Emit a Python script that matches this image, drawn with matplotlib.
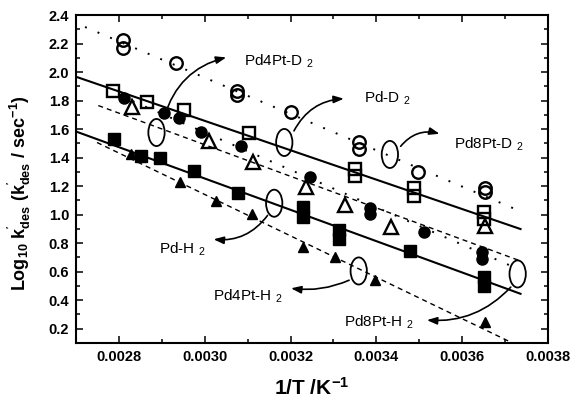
import matplotlib
matplotlib.use('Agg')
import matplotlib.pyplot as plt
import numpy as np
from matplotlib.patches import Ellipse, FancyArrowPatch
from matplotlib.ticker import MultipleLocator, FormatStrFormatter

plt.rcParams['font.family'] = ['Liberation Sans', 'DejaVu Sans']
plt.rcParams['mathtext.default'] = 'regular'

# desorption rate constants, log10 k'des vs 1/T
# D2 runs (open symbols)
pd8pt_d2_x = [0.00281, 0.00281, 0.002934, 0.003075, 0.003075, 0.0032,
              0.003359, 0.003359, 0.003497, 0.003654, 0.003654]
pd8pt_d2_y = [2.225, 2.17, 2.065, 1.87, 1.84, 1.723, 1.51, 1.457, 1.297, 1.185, 1.16]

pd_d2_x = [0.002787, 0.002866, 0.002951, 0.003103, 0.00335, 0.00335,
           0.003488, 0.003488, 0.003652, 0.003652]
pd_d2_y = [1.869, 1.793, 1.737, 1.576, 1.32, 1.27, 1.19, 1.13, 1.017, 0.968]

pd4pt_d2_x = [0.002831, 0.003009, 0.003113, 0.003237, 0.003328, 0.003434, 0.003654]
pd4pt_d2_y = [1.758, 1.513, 1.366, 1.192, 1.066, 0.913, 0.92]

# H2 runs (filled symbols)
pd8pt_h2_x = [0.002813, 0.002904, 0.002939, 0.002991, 0.003085, 0.003246,
              0.003385, 0.003385, 0.003511, 0.003647, 0.003647]
pd8pt_h2_y = [1.82, 1.716, 1.681, 1.583, 1.478, 1.262, 1.045, 1.003, 0.878, 0.74, 0.69]

pd_h2_x = [0.002789, 0.002852, 0.002895, 0.002974, 0.003078, 0.00323, 0.00323,
           0.003312, 0.003312, 0.003478, 0.003652, 0.003652]
pd_h2_y = [1.527, 1.408, 1.394, 1.304, 1.15, 1.055, 0.982, 0.892, 0.829, 0.745, 0.563, 0.501]

pd4pt_h2_x = [0.002829, 0.002942, 0.003026, 0.00311, 0.003228, 0.003303, 0.003396, 0.003654]
pd4pt_h2_y = [1.422, 1.227, 1.094, 1.003, 0.773, 0.703, 0.545, 0.249]

# Arrhenius fit lines (end points)
fit_pd8pt_d2 = ([0.002721, 0.003741], [2.316, 1.017])
fit_pd_d2 = ([0.0027, 0.003736], [1.967, 0.899])
fit_pd4pt_d2 = ([0.002752, 0.003736], [1.765, 0.675])
fit_pd8pt_h2 = ([0.002803, 0.003725], [1.834, 0.626])
fit_pd_h2 = ([0.0027, 0.003736], [1.583, 0.445])
fit_pd4pt_h2 = ([0.002749, 0.003711], [1.506, 0.109])


def main():
    fig = plt.figure(figsize=(5.71, 3.99), dpi=100)
    ax = fig.add_axes([0.1331, 0.1404, 0.8266, 0.822])

    dotted = (0, (1, 6))
    dashed = (0, (3.6, 2.9))
    ax.plot(*fit_pd8pt_d2, color='k', lw=1.4, ls=dotted)
    ax.plot(*fit_pd_d2, color='k', lw=1.5, ls='-')
    ax.plot(*fit_pd4pt_d2, color='k', lw=1.0, ls=dashed)
    ax.plot(*fit_pd8pt_h2, color='k', lw=1.4, ls=dotted)
    ax.plot(*fit_pd_h2, color='k', lw=1.5, ls='-')
    ax.plot(*fit_pd4pt_h2, color='k', lw=1.0, ls=dashed)

    ms = 9
    ax.plot(pd8pt_d2_x, pd8pt_d2_y, 'o', ms=ms, mfc='none', mec='k', mew=1.7)
    ax.plot(pd_d2_x, pd_d2_y, 's', ms=ms, mfc='none', mec='k', mew=1.7)
    ax.plot(pd4pt_d2_x, pd4pt_d2_y, '^', ms=ms + 1, mfc='none', mec='k', mew=1.7)
    ax.plot(pd8pt_h2_x, pd8pt_h2_y, 'o', ms=ms - 1, color='k')
    ax.plot(pd_h2_x, pd_h2_y, 's', ms=ms - 1, color='k')
    ax.plot(pd4pt_h2_x, pd4pt_h2_y, '^', ms=ms - 1.5, color='k')

    # ellipses marking each fit, with curved arrows to the labels
    ew, eh = 3.8e-5, 0.19
    notes = [
        ((0.0028876, 1.576), (0.002904, 1.667), (0.0030564, 2.107), -0.3,
         (0.0030916, 2.044), 'Pd4Pt-D $_2$'),
        ((0.0031854, 1.506), (0.003205, 1.570), (0.0033307, 1.814), -0.3,
         (0.0033706, 1.785), 'Pd-D $_2$'),
        ((0.0034315, 1.422), (0.0034526, 1.464), (0.0035535, 1.562), -0.35,
         (0.0035816, 1.464), 'Pd8Pt-D $_2$'),
        ((0.0031619, 1.080), (0.0031502, 1.010), (0.0030142, 0.829), -0.3,
         (0.0028923, 0.724), 'Pd-H $_2$'),
        ((0.0033589, 0.605), (0.0033424, 0.548), (0.0031947, 0.486), -0.15,
         (0.0030189, 0.396), 'Pd4Pt-H $_2$'),
        ((0.0037293, 0.584), (0.0037176, 0.506), (0.0035113, 0.262), -0.25,
         (0.0033237, 0.214), 'Pd8Pt-H $_2$'),
    ]
    for centre, start, end, rad, text_pos, label in notes:
        ax.add_patch(Ellipse(centre, ew, eh, fill=False, ec='k', lw=1.3, zorder=4))
        ax.add_patch(FancyArrowPatch(start, end, connectionstyle='arc3,rad=%s' % rad,
                                     arrowstyle='-|>,head_length=6,head_width=2.2',
                                     color='k', lw=1.2, zorder=4))
        ax.text(text_pos[0], text_pos[1], label, fontsize=11, ha='left', va='baseline')

    ax.set_xlim(0.0027, 0.0038)
    ax.set_ylim(0.1, 2.4)
    ax.xaxis.set_major_locator(MultipleLocator(0.0002))
    ax.xaxis.set_minor_locator(MultipleLocator(0.0001))
    ax.yaxis.set_major_locator(MultipleLocator(0.2))
    ax.yaxis.set_minor_locator(MultipleLocator(0.1))
    ax.xaxis.set_major_formatter(FormatStrFormatter('%.4f'))
    ax.yaxis.set_major_formatter(FormatStrFormatter('%.1f'))
    ax.set_yticks(np.arange(0.2, 2.41, 0.2))

    ax.tick_params(which='both', direction='in', top=True, right=True, width=1.1)
    ax.tick_params(which='major', length=5, labelsize=10.5, pad=5)
    ax.tick_params(which='minor', length=3)
    for lab in ax.get_xticklabels() + ax.get_yticklabels():
        lab.set_fontweight('bold')
    for sp in ax.spines.values():
        sp.set_linewidth(1.5)

    ax.set_xlabel('1/T /K$^{-1}$', fontsize=15, fontweight='bold', labelpad=9)
    ax.set_ylabel("Log$_{10}$ k$^{'}_{des}$ (k$^{'}_{des}$ / sec$^{-1}$)",
                  fontsize=13, fontweight='bold')
    ax.yaxis.set_label_coords(-0.092, 0.457)

    fig.savefig('out.png', dpi=100)


if __name__ == '__main__':
    main()
